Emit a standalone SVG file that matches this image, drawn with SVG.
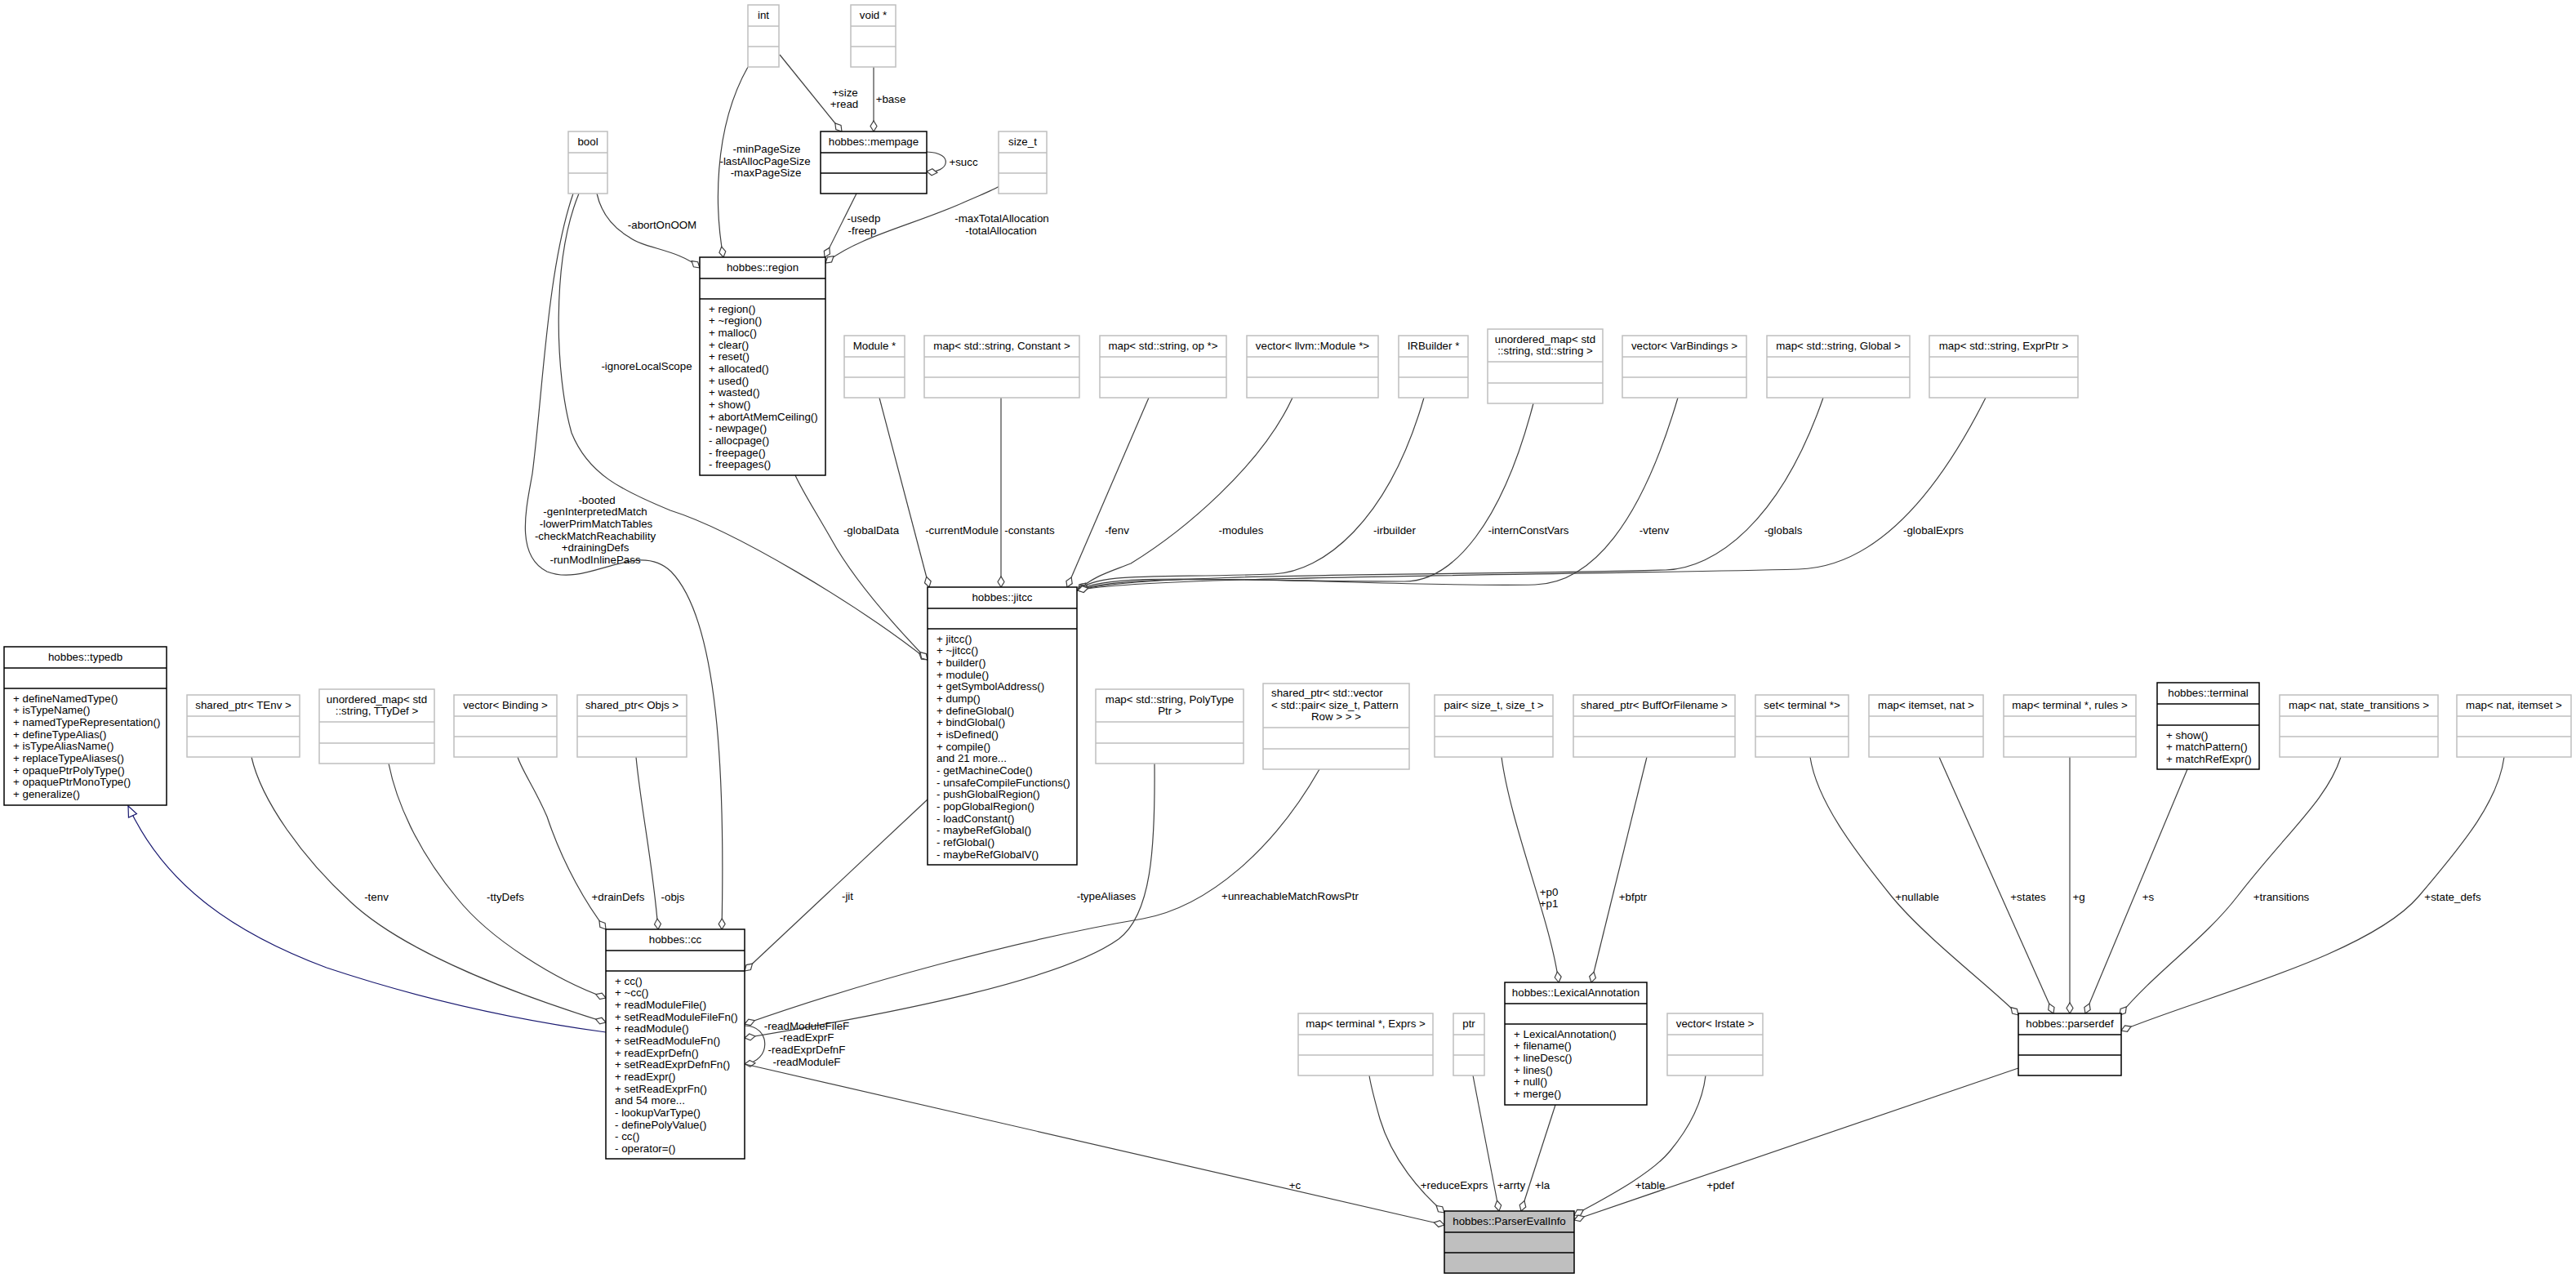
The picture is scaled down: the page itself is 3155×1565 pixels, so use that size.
<svg xmlns="http://www.w3.org/2000/svg" width="3155" height="1565" viewBox="0 0 3155 1565">
<style>
text{font-family:"Liberation Sans",Arial,Helvetica,sans-serif;font-size:13.33px;fill:#000}
.c{text-anchor:middle}
.g rect{fill:#fff;stroke:#bfbfbf;stroke-width:1.5}
.g path{fill:none;stroke:#bfbfbf;stroke-width:1.5}
.k rect{fill:#fff;stroke:#000;stroke-width:1.5}
.k path{fill:none;stroke:#000;stroke-width:1.5}
#PEI rect{fill:#bfbfbf}
.e path{fill:none;stroke:#404040;stroke-width:1.2;marker-start:url(#dia)}
.e path.inh{stroke:#191970;marker-start:url(#tri)}
</style>
<defs>
<marker id="dia" markerUnits="userSpaceOnUse" orient="auto" refX="0" refY="0" markerWidth="16" markerHeight="10" viewBox="0 -5 16 10" overflow="visible"><path d="M0,0 L6.5,-4 L13,0 L6.5,4 Z" fill="#fff" stroke="#404040" stroke-width="1.2"/></marker>
<marker id="tri" markerUnits="userSpaceOnUse" orient="auto" refX="0" refY="0" markerWidth="16" markerHeight="14" viewBox="0 -7 16 14" overflow="visible"><path d="M0,0 L13,-5.5 L13,5.5 Z" fill="#fff" stroke="#191970" stroke-width="1.2"/></marker>
</defs>
<rect x="0" y="0" width="3155" height="1565" fill="#fff"/>

<g id="edges" class="e">
<path d="M886,315 C876,260 872,160 916,82"/>
<path d="M1031,161 L955,67"/>
<path d="M1070,161 L1070,82"/>
<path d="M1135,210 C1162,213 1170,187 1135,186"/>
<path d="M1010,315 L1049,237"/>
<path d="M1011,322 C1050,290 1120,275 1180,248 C1205,237 1218,232 1224,228"/>
<path d="M857,328 C830,305 790,305 770,290 C745,275 735,255 731,237"/>
<path d="M1136,808 C1050,740 900,650 821,625 C760,600 720,580 700,530 C680,460 675,320 709,237"/>
<path d="M884,1138 C888,950 880,760 822,700 C780,660 720,720 670,700 C630,680 645,620 652,580 C665,480 670,330 702,237"/>
<path d="M1136,808 C1080,750 1040,700 1018,660 C995,620 982,600 974,582"/>
<path d="M1138,719 L1077,487"/>
<path d="M1226,719 L1226,487"/>
<path d="M1307,719 L1407,487"/>
<path d="M1320,723 C1340,705 1360,700 1385,690 C1450,650 1545,570 1583,487"/>
<path d="M1320,723 C1345,700 1420,708 1560,703 C1620,700 1700,640 1744,487"/>
<path d="M1320,723 C1360,700 1500,712 1720,712 C1780,712 1840,640 1878,494"/>
<path d="M1320,723 C1400,695 1700,720 1880,716 C1950,714 2010,640 2055,487"/>
<path d="M1320,723 C1400,700 1800,705 2040,698 C2100,696 2180,640 2233,487"/>
<path d="M1320,723 C1400,705 1900,705 2203,697 C2270,695 2350,650 2432,487"/>
<path d="M912,1189 L1136,979"/>
<path class="inh" d="M157,987 C200,1080 280,1140 400,1185 C520,1225 640,1250 742,1264"/>
<path d="M742,1252 C640,1220 500,1170 430,1105 C370,1050 320,980 308,927"/>
<path d="M742,1222 C680,1200 600,1150 560,1100 C510,1040 485,980 476,935"/>
<path d="M742,1138 C720,1110 690,1060 670,1000 C655,965 640,945 634,927"/>
<path d="M806,1138 C800,1060 785,990 779,927"/>
<path d="M912,1271 C1100,1240 1300,1200 1370,1150 C1410,1120 1415,1040 1414,935"/>
<path d="M912,1254 C1050,1205 1250,1150 1400,1125 C1480,1110 1560,1040 1616,942"/>
<path d="M912,1303 C945,1300 945,1256 912,1256"/>
<path d="M1769,1500 L912,1303"/>
<path d="M1769,1485 C1740,1460 1705,1420 1690,1370 C1683,1345 1679,1330 1677,1317"/>
<path d="M1836,1483 L1804,1317"/>
<path d="M1863,1483 L1905,1353"/>
<path d="M1928,1488 C1960,1470 2020,1440 2045,1410 C2070,1380 2085,1350 2089,1317"/>
<path d="M1928,1494 L2472,1308"/>
<path d="M1909,1203 C1900,1130 1850,1010 1839,927"/>
<path d="M1949,1203 L2017,927"/>
<path d="M2472,1243 C2440,1210 2360,1150 2317,1098 C2270,1040 2225,980 2217,927"/>
<path d="M2515,1241 L2375,927"/>
<path d="M2535,1241 L2535,927"/>
<path d="M2554,1241 L2679,942"/>
<path d="M2596,1243 C2640,1190 2700,1150 2740,1098 C2800,1020 2850,980 2867,927"/>
<path d="M2598,1262 C2700,1220 2900,1170 2962,1098 C3020,1030 3060,980 3067,927"/>
</g>

<g id="edge-labels">
<text class="c" x="939" y="187">-minPageSize</text>
<text class="c" x="937" y="201.7">-lastAllocPageSize</text>
<text class="c" x="938" y="216.4">-maxPageSize</text>
<text class="c" x="1035" y="117.5">+size</text>
<text class="c" x="1034" y="132">+read</text>
<text class="c" x="1091" y="125.5">+base</text>
<text class="c" x="1180" y="202.5">+succ</text>
<text class="c" x="1058" y="272">-usedp</text>
<text class="c" x="1056" y="286.7">-freep</text>
<text class="c" x="1227" y="272">-maxTotalAllocation</text>
<text class="c" x="1226" y="286.7">-totalAllocation</text>
<text class="c" x="811" y="279.5">-abortOnOOM</text>
<text class="c" x="792" y="452.5">-ignoreLocalScope</text>
<text class="c" x="731" y="616.5">-booted</text>
<text class="c" x="729" y="631.2">-genInterpretedMatch</text>
<text class="c" x="730" y="645.8">-lowerPrimMatchTables</text>
<text class="c" x="729" y="660.5">-checkMatchReachability</text>
<text class="c" x="729" y="675.2">+drainingDefs</text>
<text class="c" x="729" y="689.8">-runModInlinePass</text>
<text class="c" x="1067" y="653.5">-globalData</text>
<text class="c" x="1178" y="653.5">-currentModule</text>
<text class="c" x="1261" y="653.5">-constants</text>
<text class="c" x="1368" y="653.5">-fenv</text>
<text class="c" x="1520" y="653.5">-modules</text>
<text class="c" x="1708" y="653.5">-irbuilder</text>
<text class="c" x="1872" y="653.5">-internConstVars</text>
<text class="c" x="2026" y="653.5">-vtenv</text>
<text class="c" x="2184" y="653.5">-globals</text>
<text class="c" x="2368" y="653.5">-globalExprs</text>
<text class="c" x="461" y="1102.5">-tenv</text>
<text class="c" x="619" y="1102.5">-ttyDefs</text>
<text class="c" x="757" y="1102.5">+drainDefs</text>
<text class="c" x="824" y="1102.5">-objs</text>
<text class="c" x="1038" y="1101.5">-jit</text>
<text class="c" x="1355" y="1101.5">-typeAliases</text>
<text class="c" x="1580" y="1101.5">+unreachableMatchRowsPtr</text>
<text class="c" x="988" y="1260.5">-readModuleFileF</text>
<text class="c" x="988" y="1275.2">-readExprF</text>
<text class="c" x="988" y="1289.8">-readExprDefnF</text>
<text class="c" x="988" y="1304.5">-readModuleF</text>
<text class="c" x="1897" y="1096.5">+p0</text>
<text class="c" x="1897" y="1111">+p1</text>
<text class="c" x="2000" y="1102.5">+bfptr</text>
<text class="c" x="2348" y="1102.5">+nullable</text>
<text class="c" x="2484" y="1102.5">+states</text>
<text class="c" x="2546" y="1102.5">+g</text>
<text class="c" x="2631" y="1102.5">+s</text>
<text class="c" x="2794" y="1102.5">+transitions</text>
<text class="c" x="3004" y="1102.5">+state_defs</text>
<text class="c" x="1586" y="1455.5">+c</text>
<text class="c" x="1781" y="1455.5">+reduceExprs</text>
<text class="c" x="1851" y="1455.5">+arrty</text>
<text class="c" x="1889" y="1455.5">+la</text>
<text class="c" x="2021" y="1455.5">+table</text>
<text class="c" x="2107" y="1455.5">+pdef</text>
</g>

<g id="n-int" class="g"><rect x="916" y="6" width="38" height="76"/><path d="M916,32H954M916,57H954"/><text class="c" x="935" y="23">int</text></g>
<g id="n-voidp" class="g"><rect x="1042" y="6" width="55" height="76"/><path d="M1042,32H1097M1042,57H1097"/><text class="c" x="1069.5" y="23">void *</text></g>
<g id="n-mempage" class="k"><rect x="1005" y="161" width="130" height="76"/><path d="M1005,187H1135M1005,212H1135"/><text class="c" x="1070" y="178">hobbes::mempage</text></g>
<g id="n-bool" class="g"><rect x="696" y="161" width="48" height="76"/><path d="M696,187H744M696,212H744"/><text class="c" x="720" y="178">bool</text></g>
<g id="n-size_t" class="g"><rect x="1223" y="161" width="59" height="76"/><path d="M1223,187H1282M1223,212H1282"/><text class="c" x="1252.5" y="178">size_t</text></g>
<g id="n-region" class="k"><rect x="857" y="315" width="154" height="267"/><path d="M857,341H1011M857,366H1011"/><text class="c" x="934" y="332">hobbes::region</text>
<text x="868" y="382.5"><tspan x="868">+ region()</tspan><tspan x="868" dy="14.67">+ ~region()</tspan><tspan x="868" dy="14.67">+ malloc()</tspan><tspan x="868" dy="14.67">+ clear()</tspan><tspan x="868" dy="14.67">+ reset()</tspan><tspan x="868" dy="14.67">+ allocated()</tspan><tspan x="868" dy="14.67">+ used()</tspan><tspan x="868" dy="14.67">+ wasted()</tspan><tspan x="868" dy="14.67">+ show()</tspan><tspan x="868" dy="14.67">+ abortAtMemCeiling()</tspan><tspan x="868" dy="14.67">- newpage()</tspan><tspan x="868" dy="14.67">- allocpage()</tspan><tspan x="868" dy="14.67">- freepage()</tspan><tspan x="868" dy="14.67">- freepages()</tspan></text></g>
<g id="n-module" class="g"><rect x="1034" y="411" width="74" height="76"/><path d="M1034,437H1108M1034,462H1108"/><text class="c" x="1071" y="428">Module *</text></g>
<g id="n-constants" class="g"><rect x="1132" y="411" width="190" height="76"/><path d="M1132,437H1322M1132,462H1322"/><text class="c" x="1227" y="428">map&lt; std::string, Constant &gt;</text></g>
<g id="n-op" class="g"><rect x="1347" y="411" width="155" height="76"/><path d="M1347,437H1502M1347,462H1502"/><text class="c" x="1424.5" y="428">map&lt; std::string, op *&gt;</text></g>
<g id="n-modules" class="g"><rect x="1527" y="411" width="161" height="76"/><path d="M1527,437H1688M1527,462H1688"/><text class="c" x="1607.5" y="428">vector&lt; llvm::Module *&gt;</text></g>
<g id="n-irbuilder" class="g"><rect x="1713" y="411" width="85" height="76"/><path d="M1713,437H1798M1713,462H1798"/><text class="c" x="1755.5" y="428">IRBuilder *</text></g>
<g id="n-umapstr" class="g"><rect x="1822" y="403" width="141" height="91"/><path d="M1822,443H1963M1822,469H1963"/><text class="c" x="1892.5" y="419.5">unordered_map&lt; std</text><text class="c" x="1892.5" y="434.2">::string, std::string &gt;</text></g>
<g id="n-varbindings" class="g"><rect x="1987" y="411" width="152" height="76"/><path d="M1987,437H2139M1987,462H2139"/><text class="c" x="2063" y="428">vector&lt; VarBindings &gt;</text></g>
<g id="n-global" class="g"><rect x="2164" y="411" width="175" height="76"/><path d="M2164,437H2339M2164,462H2339"/><text class="c" x="2251.5" y="428">map&lt; std::string, Global &gt;</text></g>
<g id="n-exprptr" class="g"><rect x="2363" y="411" width="182" height="76"/><path d="M2363,437H2545M2363,462H2545"/><text class="c" x="2454" y="428">map&lt; std::string, ExprPtr &gt;</text></g>
<g id="n-jitcc" class="k"><rect x="1136" y="719" width="183" height="340"/><path d="M1136,745H1319M1136,770H1319"/><text class="c" x="1227.5" y="736">hobbes::jitcc</text>
<text x="1147" y="786.5"><tspan x="1147">+ jitcc()</tspan><tspan x="1147" dy="14.67">+ ~jitcc()</tspan><tspan x="1147" dy="14.67">+ builder()</tspan><tspan x="1147" dy="14.67">+ module()</tspan><tspan x="1147" dy="14.67">+ getSymbolAddress()</tspan><tspan x="1147" dy="14.67">+ dump()</tspan><tspan x="1147" dy="14.67">+ defineGlobal()</tspan><tspan x="1147" dy="14.67">+ bindGlobal()</tspan><tspan x="1147" dy="14.67">+ isDefined()</tspan><tspan x="1147" dy="14.67">+ compile()</tspan><tspan x="1147" dy="14.67">and 21 more...</tspan><tspan x="1147" dy="14.67">- getMachineCode()</tspan><tspan x="1147" dy="14.67">- unsafeCompileFunctions()</tspan><tspan x="1147" dy="14.67">- pushGlobalRegion()</tspan><tspan x="1147" dy="14.67">- popGlobalRegion()</tspan><tspan x="1147" dy="14.67">- loadConstant()</tspan><tspan x="1147" dy="14.67">- maybeRefGlobal()</tspan><tspan x="1147" dy="14.67">- refGlobal()</tspan><tspan x="1147" dy="14.67">- maybeRefGlobalV()</tspan></text></g>
<g id="n-typedb" class="k"><rect x="5" y="792" width="199" height="194"/><path d="M5,818H204M5,843H204"/><text class="c" x="104.5" y="809">hobbes::typedb</text>
<text x="16" y="859.5"><tspan x="16">+ defineNamedType()</tspan><tspan x="16" dy="14.67">+ isTypeName()</tspan><tspan x="16" dy="14.67">+ namedTypeRepresentation()</tspan><tspan x="16" dy="14.67">+ defineTypeAlias()</tspan><tspan x="16" dy="14.67">+ isTypeAliasName()</tspan><tspan x="16" dy="14.67">+ replaceTypeAliases()</tspan><tspan x="16" dy="14.67">+ opaquePtrPolyType()</tspan><tspan x="16" dy="14.67">+ opaquePtrMonoType()</tspan><tspan x="16" dy="14.67">+ generalize()</tspan></text></g>
<g id="n-tenv" class="g"><rect x="229" y="851" width="138" height="76"/><path d="M229,877H367M229,902H367"/><text class="c" x="298" y="868">shared_ptr&lt; TEnv &gt;</text></g>
<g id="n-ttydef" class="g"><rect x="391" y="844" width="141" height="91"/><path d="M391,884H532M391,910H532"/><text class="c" x="461.5" y="860.5">unordered_map&lt; std</text><text class="c" x="461.5" y="875.2">::string, TTyDef &gt;</text></g>
<g id="n-binding" class="g"><rect x="556" y="851" width="126" height="76"/><path d="M556,877H682M556,902H682"/><text class="c" x="619" y="868">vector&lt; Binding &gt;</text></g>
<g id="n-objs" class="g"><rect x="707" y="851" width="134" height="76"/><path d="M707,877H841M707,902H841"/><text class="c" x="774" y="868">shared_ptr&lt; Objs &gt;</text></g>
<g id="n-polytype" class="g"><rect x="1342" y="844" width="181" height="91"/><path d="M1342,884H1523M1342,910H1523"/><text class="c" x="1432.5" y="860.5">map&lt; std::string, PolyType</text><text class="c" x="1432.5" y="875.2">Ptr &gt;</text></g>
<g id="n-matchrows" class="g"><rect x="1547" y="837" width="179" height="105"/><path d="M1547,891H1726M1547,917H1726"/><text x="1557" y="853">shared_ptr&lt; std::vector</text><text x="1557" y="867.7">&lt; std::pair&lt; size_t, Pattern</text><text class="c" x="1636.5" y="882.4">Row &gt; &gt; &gt;</text></g>
<g id="n-pair" class="g"><rect x="1757" y="851" width="145" height="76"/><path d="M1757,877H1902M1757,902H1902"/><text class="c" x="1829.5" y="868">pair&lt; size_t, size_t &gt;</text></g>
<g id="n-bufforfilename" class="g"><rect x="1927" y="851" width="198" height="76"/><path d="M1927,877H2125M1927,902H2125"/><text class="c" x="2026" y="868">shared_ptr&lt; BuffOrFilename &gt;</text></g>
<g id="n-setterminal" class="g"><rect x="2150" y="851" width="114" height="76"/><path d="M2150,877H2264M2150,902H2264"/><text class="c" x="2207" y="868">set&lt; terminal *&gt;</text></g>
<g id="n-itemsetnat" class="g"><rect x="2289" y="851" width="140" height="76"/><path d="M2289,877H2429M2289,902H2429"/><text class="c" x="2359" y="868">map&lt; itemset, nat &gt;</text></g>
<g id="n-rules" class="g"><rect x="2454" y="851" width="162" height="76"/><path d="M2454,877H2616M2454,902H2616"/><text class="c" x="2535" y="868">map&lt; terminal *, rules &gt;</text></g>
<g id="n-terminal" class="k"><rect x="2642" y="836" width="125" height="106"/><path d="M2642,862H2767M2642,888H2767"/><text class="c" x="2704.5" y="853">hobbes::terminal</text>
<text x="2653" y="904.5"><tspan x="2653">+ show()</tspan><tspan x="2653" dy="14.67">+ matchPattern()</tspan><tspan x="2653" dy="14.67">+ matchRefExpr()</tspan></text></g>
<g id="n-transitions" class="g"><rect x="2792" y="851" width="194" height="76"/><path d="M2792,877H2986M2792,902H2986"/><text class="c" x="2889" y="868">map&lt; nat, state_transitions &gt;</text></g>
<g id="n-natitemset" class="g"><rect x="3009" y="851" width="140" height="76"/><path d="M3009,877H3149M3009,902H3149"/><text class="c" x="3079" y="868">map&lt; nat, itemset &gt;</text></g>
<g id="n-cc" class="k"><rect x="742" y="1138" width="170" height="281"/><path d="M742,1164H912M742,1189H912"/><text class="c" x="827" y="1155">hobbes::cc</text>
<text x="753" y="1205.5"><tspan x="753">+ cc()</tspan><tspan x="753" dy="14.67">+ ~cc()</tspan><tspan x="753" dy="14.67">+ readModuleFile()</tspan><tspan x="753" dy="14.67">+ setReadModuleFileFn()</tspan><tspan x="753" dy="14.67">+ readModule()</tspan><tspan x="753" dy="14.67">+ setReadModuleFn()</tspan><tspan x="753" dy="14.67">+ readExprDefn()</tspan><tspan x="753" dy="14.67">+ setReadExprDefnFn()</tspan><tspan x="753" dy="14.67">+ readExpr()</tspan><tspan x="753" dy="14.67">+ setReadExprFn()</tspan><tspan x="753" dy="14.67">and 54 more...</tspan><tspan x="753" dy="14.67">- lookupVarType()</tspan><tspan x="753" dy="14.67">- definePolyValue()</tspan><tspan x="753" dy="14.67">- cc()</tspan><tspan x="753" dy="14.67">- operator=()</tspan></text></g>
<g id="n-lexann" class="k"><rect x="1843" y="1203" width="174" height="150"/><path d="M1843,1229H2017M1843,1254H2017"/><text class="c" x="1930" y="1220">hobbes::LexicalAnnotation</text>
<text x="1854" y="1270.5"><tspan x="1854">+ LexicalAnnotation()</tspan><tspan x="1854" dy="14.67">+ filename()</tspan><tspan x="1854" dy="14.67">+ lineDesc()</tspan><tspan x="1854" dy="14.67">+ lines()</tspan><tspan x="1854" dy="14.67">+ null()</tspan><tspan x="1854" dy="14.67">+ merge()</tspan></text></g>
<g id="n-exprs" class="g"><rect x="1590" y="1241" width="165" height="76"/><path d="M1590,1267H1755M1590,1292H1755"/><text class="c" x="1672.5" y="1258">map&lt; terminal *, Exprs &gt;</text></g>
<g id="n-ptr" class="g"><rect x="1780" y="1241" width="38" height="76"/><path d="M1780,1267H1818M1780,1292H1818"/><text class="c" x="1799" y="1258">ptr</text></g>
<g id="n-lrstate" class="g"><rect x="2042" y="1241" width="117" height="76"/><path d="M2042,1267H2159M2042,1292H2159"/><text class="c" x="2100.5" y="1258">vector&lt; lrstate &gt;</text></g>
<g id="n-parserdef" class="k"><rect x="2472" y="1241" width="126" height="76"/><path d="M2472,1267H2598M2472,1292H2598"/><text class="c" x="2535" y="1258">hobbes::parserdef</text></g>
<g id="PEI" class="k"><rect x="1769" y="1483" width="159" height="76"/><path d="M1769,1509H1928M1769,1534H1928"/><text class="c" x="1848.5" y="1500">hobbes::ParserEvalInfo</text></g>
</svg>
